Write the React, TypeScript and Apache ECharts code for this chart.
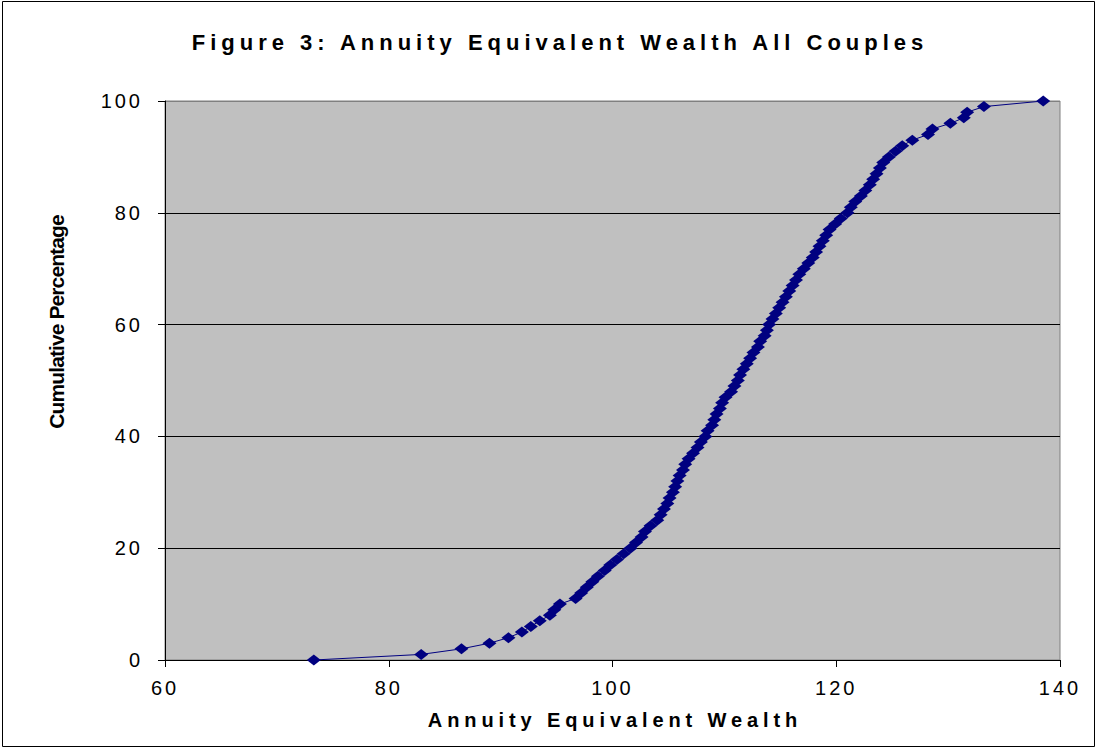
import React, { useEffect, useRef } from "react";
import * as echarts from "echarts";

// Cumulative percentage (0..100) and the annuity equivalent wealth read at each step
const cumulativePercent: number[] = [
  0, 1, 2, 3, 4, 5, 6, 7, 8, 9,
  10, 11, 12, 13, 14, 15, 16, 17, 18, 19,
  20, 21, 22, 23, 24, 25, 26, 27, 28, 29,
  30, 31, 32, 33, 34, 35, 36, 37, 38, 39,
  40, 41, 42, 43, 44, 45, 46, 47, 48, 49,
  50, 51, 52, 53, 54, 55, 56, 57, 58, 59,
  60, 61, 62, 63, 64, 65, 66, 67, 68, 69,
  70, 71, 72, 73, 74, 75, 76, 77, 78, 79,
  80, 81, 82, 83, 84, 85, 86, 87, 88, 89,
  90, 91, 92, 93, 94, 95, 96, 97, 98, 99,
  100,
];

const wealth: number[] = [
  73.3, 82.9, 86.5, 89.0, 90.7, 91.9, 92.7, 93.5, 94.4, 94.8,
  95.3, 96.7, 97.2, 97.7, 98.2, 98.7, 99.3, 99.8, 100.4, 101.0,
  101.6, 102.1, 102.6, 102.9, 103.4, 104.0, 104.3, 104.6, 104.9, 105.1,
  105.4, 105.6, 105.8, 106.0, 106.3, 106.5, 106.8, 107.2, 107.6, 107.9,
  108.3, 108.5, 108.9, 109.1, 109.3, 109.6, 109.8, 110.1, 110.6, 110.9,
  111.2, 111.4, 111.7, 112.0, 112.3, 112.6, 113.0, 113.2, 113.6, 113.8,
  114.0, 114.3, 114.6, 114.9, 115.2, 115.5, 115.8, 116.1, 116.4, 116.7,
  117.1, 117.5, 117.9, 118.2, 118.5, 118.8, 119.1, 119.4, 119.9, 120.4,
  121.0, 121.3, 121.7, 122.2, 122.6, 123.0, 123.3, 123.6, 123.9, 124.2,
  124.7, 125.3, 125.9, 126.8, 128.2, 128.6, 130.2, 131.4, 131.7, 133.2,
  138.5,
];

const xMin = 60;
const xMax = 140;
const xStep = 20;
const yMin = 0;
const yMax = 100;
const yStep = 20;

const titleText = "Figure 3: Annuity Equivalent Wealth All Couples";
const xAxisTitle = "Annuity Equivalent Wealth";
const yAxisTitle = "Cumulative Percentage";

const FONT = "'Liberation Sans', Arial, sans-serif";

export default function App() {
  const ref = useRef<HTMLDivElement>(null);

  useEffect(() => {
    const el = ref.current;
    if (!el) return;
    document.body.style.margin = "0";
    const chart = echarts.init(el, null, { renderer: "svg" });

    const data = wealth.map((w, i) => [w, cumulativePercent[i]]);

    chart.setOption({
      animation: false,
      backgroundColor: "#ffffff",
      grid: {
        left: 165,
        top: 101,
        width: 895,
        height: 559,
        show: true,
        backgroundColor: "#C0C0C0",
        borderColor: "#808080",
        borderWidth: 1,
      },
      xAxis: {
        type: "value",
        min: xMin,
        max: xMax,
        interval: xStep,
        axisLine: { show: true, onZero: false, lineStyle: { color: "#000", width: 1 } },
        axisTick: { show: true, inside: false, length: 7, lineStyle: { color: "#000" } },
        splitLine: { show: false },
        axisLabel: {
          color: "#000",
          fontSize: 20,
          fontFamily: FONT,
          margin: 18,
        },
      },
      yAxis: {
        type: "value",
        min: yMin,
        max: yMax,
        interval: yStep,
        axisLine: { show: true, lineStyle: { color: "#000", width: 1 } },
        axisTick: { show: true, inside: false, length: 7, lineStyle: { color: "#000" } },
        splitLine: {
          show: true,
          lineStyle: {
            color: ["#000", "#000", "#000", "#000", "#000", "#808080"],
            width: 1,
          },
        },
        axisLabel: {
          color: "#000",
          fontSize: 20,
          fontFamily: FONT,
          margin: 22,
        },
      },
      series: [
        {
          type: "line",
          data,
          symbol: "diamond",
          symbolSize: [14, 11],
          showSymbol: true,
          lineStyle: { color: "#000080", width: 1 },
          itemStyle: { color: "#000080" },
          z: 3,
        },
      ],
      graphic: [
        {
          type: "rect",
          shape: { x: 2.5, y: 1.5, width: 1092, height: 745 },
          style: { fill: "none", stroke: "#000", lineWidth: 1 },
          silent: true,
          z: -10,
        },
        {
          type: "text",
          x: 560,
          y: 42,
          style: {
            text: titleText,
            font: `bold 22px ${FONT}`,
            fill: "#000",
            textAlign: "center",
            textVerticalAlign: "middle",
          },
        },
        {
          type: "text",
          x: 615,
          y: 720,
          style: {
            text: xAxisTitle,
            font: `bold 20px ${FONT}`,
            fill: "#000",
            textAlign: "center",
            textVerticalAlign: "middle",
          },
        },
        {
          type: "text",
          x: 56,
          y: 322,
          rotation: Math.PI / 2,
          style: {
            text: yAxisTitle,
            font: `bold 21px ${FONT}`,
            fill: "#000",
            textAlign: "center",
            textVerticalAlign: "middle",
          },
        },
      ],
    });

    const applySpacing = () => {
      el.querySelectorAll("text").forEach((t) => {
        const s = t.textContent || "";
        let ls: number | null = null;
        if (s === titleText) ls = 5.0;
        else if (s === xAxisTitle) ls = 4.9;
        else if (s === yAxisTitle) ls = -0.9;
        else if (/^\d+$/.test(s)) ls = 3;
        if (ls !== null) t.setAttribute("letter-spacing", `${ls}px`);
      });
    };
    applySpacing();
    chart.on("finished", applySpacing);

    return () => {
      chart.dispose();
    };
  }, []);

  return (
    <div
      ref={ref}
      style={{ position: "absolute", left: 0, top: 0, width: 1097, height: 749 }}
    />
  );
}
